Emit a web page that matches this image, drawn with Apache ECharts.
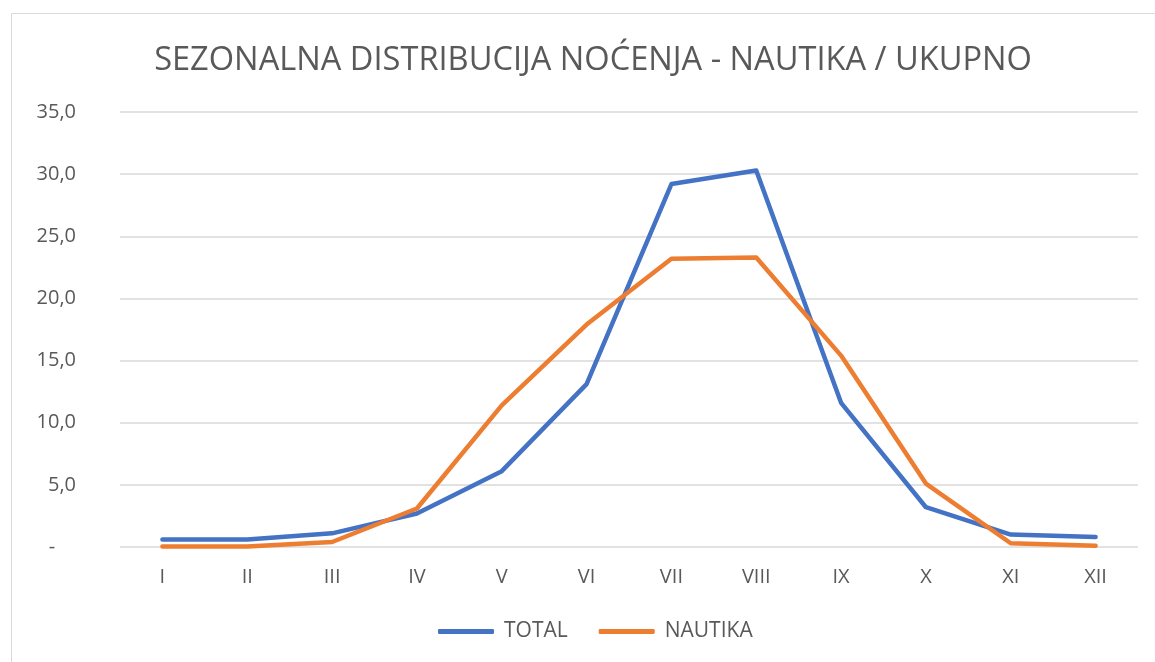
<!DOCTYPE html>
<html>
<head>
<meta charset="utf-8">
<script src="https://cdn.jsdelivr.net/npm/echarts@6/dist/echarts.min.js"></script>
<style>
  html, body { margin: 0; padding: 0; background: #fff; }
  #chart { width: 1155px; height: 662px; }
</style>
</head>
<body>
<div id="chart"></div>
<script>
// mjeseci (rimski brojevi)
const months = ['I', 'II', 'III', 'IV', 'V', 'VI', 'VII', 'VIII', 'IX', 'X', 'XI', 'XII']
// udio noćenja po mjesecima, %
const total = [0.6, 0.6, 1.1, 2.7, 6.1, 13.1, 29.2, 30.3, 11.6, 3.2, 1.0, 0.8]
const nautika = [0.05, 0.05, 0.4, 3.1, 11.4, 17.9, 23.2, 23.3, 15.4, 5.1, 0.3, 0.1]

const textColor = '#595959'
const font = '"Open Sans", "Liberation Sans", sans-serif'

const chart = echarts.init(document.getElementById('chart'))

chart.setOption({
  backgroundColor: '#fff',
  animation: false,
  // okvir grafikona
  graphic: [{
    type: 'rect',
    shape: { x: 11.5, y: 13.5, width: 1160, height: 700 },
    style: { fill: 'none', stroke: '#d9d9d9', lineWidth: 1 },
    silent: true
  }],
  title: {
    text: 'SEZONALNA DISTRIBUCIJA NOĆENJA - NAUTIKA / UKUPNO',
    left: 588,
    textAlign: 'center',
    top: 39,
    textStyle: { color: textColor, fontFamily: font, fontSize: 32.6, fontWeight: 'normal' }
  },
  legend: {
    bottom: 15,
    left: 433,
    icon: 'roundRect',
    itemWidth: 56,
    itemHeight: 5,
    itemGap: 31,
    textStyle: { color: textColor, fontFamily: font, fontSize: 21, padding: [0, 0, 0, 5] },
    data: ['TOTAL', 'NAUTIKA']
  },
  grid: { left: 120, right: 17, top: 112, bottom: 115 },
  xAxis: {
    type: 'category',
    data: months,
    boundaryGap: true,
    axisLine: { show: false },
    axisTick: { show: false },
    axisLabel: { color: textColor, fontFamily: font, fontSize: 20, margin: 20 }
  },
  yAxis: {
    type: 'value',
    min: 0,
    max: 35,
    interval: 5,
    axisLine: { show: false },
    axisTick: { show: false },
    splitLine: { lineStyle: { color: '#d9d9d9', width: 1.5 } },
    axisLabel: {
      color: textColor,
      fontFamily: font,
      fontSize: 20,
      margin: 44,
      formatter: v => v === 0 ? '-    ' : v.toFixed(1).replace('.', ',')
    }
  },
  series: [
    {
      name: 'TOTAL',
      type: 'line',
      data: total,
      symbol: 'none',
      lineStyle: { color: '#4472C4', width: 4.5, cap: 'round', join: 'round' },
      itemStyle: { color: '#4472C4' }
    },
    {
      name: 'NAUTIKA',
      type: 'line',
      data: nautika,
      symbol: 'none',
      lineStyle: { color: '#ED7D31', width: 4.5, cap: 'round', join: 'round' },
      itemStyle: { color: '#ED7D31' }
    }
  ]
})
</script>
</body>
</html>
